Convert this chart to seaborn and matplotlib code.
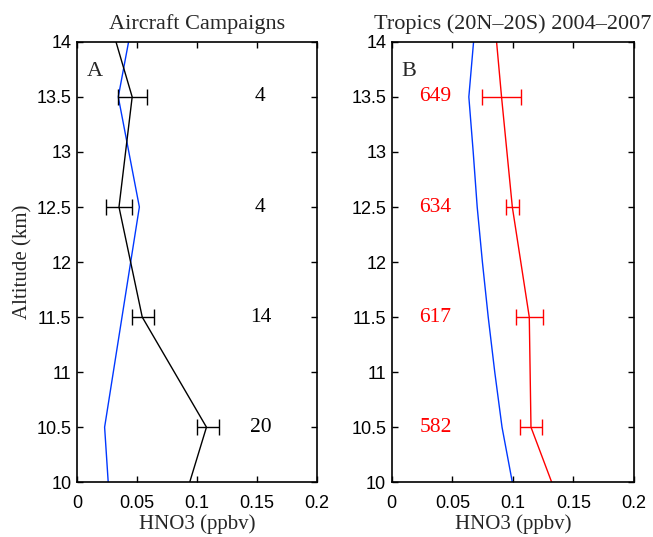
import matplotlib
matplotlib.use("Agg")
import matplotlib.pyplot as plt
import seaborn as sns
import pandas as pd

sns.set_theme(style="ticks")
plt.rcParams['font.family'] = ['Liberation Sans', 'DejaVu Sans']

# Panel A: aircraft campaigns
alt_a = [14, 13.5, 12.5, 11.5, 10.5, 10]
obs_a = [0.0325, 0.046, 0.035, 0.0544, 0.108, 0.094]
err_lo_a = [None, 0.0344, 0.024, 0.0458, 0.100, None]
err_hi_a = [None, 0.058, 0.046, 0.064, 0.1186, None]
model_alt_a = [14, 13.5, 12.5, 10.5, 10]
model_a = [0.043, 0.0344, 0.052, 0.023, 0.026]
counts_a = ["4", "4", "14", "20"]
count_alt = [13.5, 12.5, 11.5, 10.5]

# Panel B: tropics 2004-2007
alt_b = [14, 13.5, 12.5, 11.5, 10.5, 10]
obs_b = [0.0865, 0.0906, 0.0995, 0.1135, 0.1149, 0.132]
err_lo_b = [None, 0.0747, 0.094, 0.1025, 0.106, None]
err_hi_b = [None, 0.107, 0.105, 0.125, 0.124, None]
model_alt_b = [14, 13.5, 13, 12.5, 12, 11.5, 11, 10.5, 10]
model_b = [0.0675, 0.0636, 0.0672, 0.0705, 0.0748, 0.0796, 0.085, 0.091, 0.0995]
counts_b = ["649", "634", "617", "582"]

yticks = [10, 10.5, 11, 11.5, 12, 12.5, 13, 13.5, 14]
ytick_labels = ["10", "10.5", "11", "11.5", "12", "12.5", "13", "13.5", "14"]
xticks = [0, 0.05, 0.1, 0.15, 0.2]
xtick_labels = ["0", "0.05", "0.1", "0.15", "0.2"]

fig = plt.figure(figsize=(6.53, 5.37), dpi=100)
axA = fig.add_axes([0.118, 0.102, 0.367, 0.820])
axB = fig.add_axes([0.600, 0.102, 0.371, 0.820])

serif = ['Liberation Serif', 'DejaVu Serif']
blue = '#0038ff'
red = '#ff0000'

def draw(ax, alt, obs, lo, hi, malt, model, color, counts, cx, ccolor, title, letter):
    sns.lineplot(x=model, y=malt, sort=False, estimator=None, color=blue, lw=1.0, ax=ax)
    sns.lineplot(x=obs, y=alt, sort=False, estimator=None, color=color, lw=1.0, ax=ax)
    ea = [a for a, l in zip(alt, lo) if l is not None]
    ec = [(l + h) / 2 for l, h in zip(lo, hi) if l is not None]
    ew = [(h - l) / 2 for l, h in zip(lo, hi) if l is not None]
    ax.errorbar(ec, ea, xerr=ew, fmt='none', ecolor=color, elinewidth=1.0,
                capsize=5.5, capthick=1.0)
    for a, c in zip(count_alt, counts):
        ax.text(cx, a, c, color=ccolor, family=serif, fontsize=15.5,
                ha='center', va='center')
    ax.text(0.008, 13.73, letter, family=serif, fontsize=16, ha='left', va='center')
    ax.set_xlim(0, 0.2)
    ax.set_ylim(10, 14)
    ax.set_xticks(xticks)
    ax.set_xticklabels(xtick_labels)
    ax.set_yticks(yticks)
    ax.set_yticklabels(ytick_labels)
    ax.tick_params(direction='in', top=True, right=True, length=4, width=1,
                   labelsize=13, color='black', labelcolor='black')
    ax.tick_params(axis='x', pad=9)
    ax.tick_params(axis='y', pad=4)
    for s in ax.spines.values():
        s.set_linewidth(1.2)
        s.set_color('black')
    ax.set_title(title, family=serif, fontsize=16, pad=9)
    ax.set_xlabel("HNO3 (ppbv)", family=serif, fontsize=15, labelpad=2)

draw(axA, alt_a, obs_a, err_lo_a, err_hi_a, model_alt_a, model_a, 'black',
     counts_a, 0.153, 'black', "Aircraft Campaigns", "A")
draw(axB, alt_b, obs_b, err_lo_b, err_hi_b, model_alt_b, model_b, red,
     counts_b, 0.036, red, "Tropics (20N\u201320S) 2004\u20132007", "B")
axA.set_ylabel("Altitude (km)", family=serif, fontsize=15, labelpad=3)

fig.savefig("out.png", dpi=100)
